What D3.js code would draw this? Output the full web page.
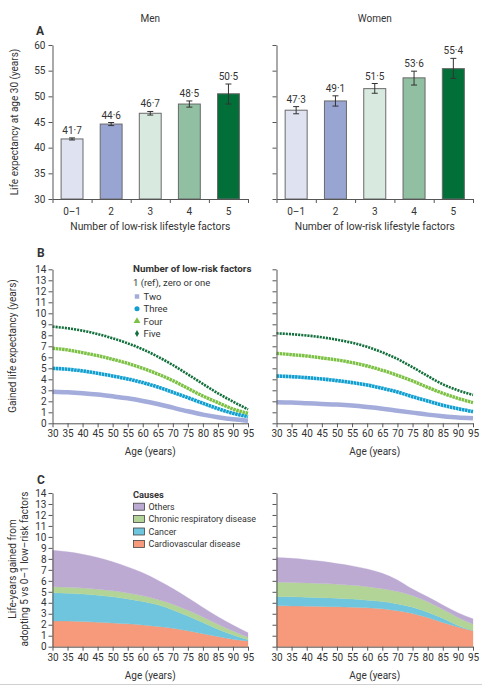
<!DOCTYPE html>
<html>
<head>
<meta charset="utf-8">
<script src="https://cdn.jsdelivr.net/npm/d3@7"></script>
<style>
  html,body{margin:0;padding:0;background:#fff;}
  svg{display:block;}
  text{font-family:Roboto,"Liberation Sans",sans-serif;fill:#333;}
</style>
</head>
<body>
<script>
// ---------- DATA ----------
const factorCats = ["0–1","2","3","4","5"];
const menLE   = [41.7,44.6,46.7,48.5,50.5];
const menLo   = [41.5,44.3,46.35,47.9,48.5];
const menHi   = [41.9,44.9,47.05,49.1,52.4];
const womenLE = [47.3,49.1,51.5,53.6,55.4];
const womenLo = [46.6,48.1,50.6,52.2,53.5];
const womenHi = [48.0,50.1,52.5,54.9,57.4];
const leLabels = {men:["41·7","44·6","46·7","48·5","50·5"], women:["47·3","49·1","51·5","53·6","55·4"]};
const yTicksA = [30,35,40,45,50,55,60];

const ages = [30,35,40,45,50,55,60,65,70,75,80,85,90,95];
const yTicksBC = [0,1,2,3,4,5,6,7,8,9,10,11,12,13,14];

const menTwo     = [2.88,2.82,2.73,2.61,2.45,2.27,2.03,1.76,1.42,1.09,0.79,0.55,0.36,0.24];
const menThree   = [5.00,4.91,4.76,4.55,4.30,4.03,3.70,3.30,2.82,2.33,1.82,1.33,0.91,0.61];
const menFour    = [6.82,6.67,6.42,6.15,5.82,5.45,5.00,4.48,3.88,3.18,2.48,1.88,1.30,0.91];
const menFive    = [8.79,8.64,8.42,8.12,7.73,7.27,6.73,6.06,5.30,4.45,3.58,2.73,1.97,1.27];
const womenTwo   = [1.91,1.88,1.82,1.76,1.70,1.61,1.48,1.33,1.15,0.97,0.79,0.64,0.52,0.45];
const womenThree = [4.30,4.24,4.15,4.03,3.88,3.70,3.48,3.18,2.85,2.42,2.03,1.64,1.33,1.06];
const womenFour  = [6.36,6.24,6.12,5.94,5.76,5.52,5.21,4.82,4.36,3.85,3.27,2.73,2.27,1.88];
const womenFive  = [8.18,8.10,7.98,7.82,7.60,7.32,6.95,6.45,5.85,5.10,4.30,3.55,3.00,2.58];

const menCvd      = [2.35,2.33,2.29,2.23,2.16,2.08,1.98,1.85,1.68,1.45,1.19,0.92,0.68,0.52];
const menCancer   = [2.56,2.53,2.50,2.45,2.38,2.27,2.14,1.96,1.67,1.35,1.01,0.67,0.39,0.12];
const menResp     = [0.55,0.55,0.55,0.55,0.55,0.54,0.51,0.49,0.52,0.52,0.51,0.45,0.36,0.22];
const menOthers   = [3.33,3.23,3.08,2.89,2.64,2.38,2.10,1.76,1.43,1.13,0.87,0.69,0.54,0.41];
const womenCvd    = [3.72,3.71,3.69,3.67,3.64,3.60,3.54,3.45,3.27,3.03,2.66,2.21,1.80,1.46];
const womenCancer = [0.84,0.83,0.82,0.80,0.78,0.74,0.70,0.67,0.63,0.57,0.48,0.38,0.14,0.02];
const womenResp   = [1.31,1.31,1.30,1.28,1.26,1.25,1.23,1.16,1.12,1.05,0.96,0.81,0.73,0.56];
const womenOthers = [2.25,2.20,2.12,2.03,1.89,1.77,1.61,1.41,1.06,0.60,0.45,0.40,0.42,0.50];

const seriesNames = ["Two","Three","Four","Five"];
const causeNames = ["Cardiovascular disease","Cancer","Chronic respiratory disease","Others"];

// ---------- STYLE ----------
const barColors = ["#dfe2f1","#98a5d3","#d8e9e0","#90bfa1","#036f38"];
const lineColors = {Two:"#a3acdb",Three:"#119fcf",Four:"#7cc144",Five:"#13703c"};
const causeColors = {"Cardiovascular disease":"#f69a7b","Cancer":"#6ec5dd","Chronic respiratory disease":"#b3d497","Others":"#bcaad3"};
const axisColor = "#555";
const FS = 10;

const W = 482, H = 686;
const svg = d3.select("body").append("svg").attr("width",W).attr("height",H);

const panelsX = {men:[52.5,248], women:[276.5,473]};

function styleAxis(g){
  g.selectAll("path,line").attr("stroke",axisColor).attr("stroke-width",1);
  g.selectAll("text").attr("font-size",FS).attr("fill","#3a3a3a").style("font-family","Roboto, 'Liberation Sans', sans-serif");
}

// ---------- PANEL A ----------
const yA = d3.scaleLinear().domain([30,60]).range([199,45]);
const dataA = {
  men: factorCats.map((c,i)=>({c, v:menLE[i], lo:menLo[i], hi:menHi[i], lab:leLabels.men[i], col:barColors[i]})),
  women: factorCats.map((c,i)=>({c, v:womenLE[i], lo:womenLo[i], hi:womenHi[i], lab:leLabels.women[i], col:barColors[i]}))
};
["men","women"].forEach(sex=>{
  const [x0,x1] = panelsX[sex];
  const xb = d3.scaleBand().domain(factorCats).range([x0,x1]).paddingInner(0.44).paddingOuter(0.22);
  const xl = d3.scaleLinear().domain([0,5]).range([x0,x1]);
  const g = svg.append("g");
  g.selectAll("rect.bar").data(dataA[sex]).join("rect")
    .attr("x",d=>xb(d.c)).attr("width",xb.bandwidth())
    .attr("y",d=>yA(d.v)).attr("height",d=>yA(30)-yA(d.v))
    .attr("fill",d=>d.col).attr("stroke","#6a6a6a").attr("stroke-width",1);
  const eb = g.selectAll("g.eb").data(dataA[sex]).join("g");
  eb.append("line").attr("x1",d=>xb(d.c)+xb.bandwidth()/2).attr("x2",d=>xb(d.c)+xb.bandwidth()/2)
    .attr("y1",d=>yA(d.lo)).attr("y2",d=>yA(d.hi)).attr("stroke","#333").attr("stroke-width",1);
  ["lo","hi"].forEach(k=>{
    eb.append("line").attr("x1",d=>xb(d.c)+xb.bandwidth()/2-3).attr("x2",d=>xb(d.c)+xb.bandwidth()/2+3)
      .attr("y1",d=>yA(d[k])).attr("y2",d=>yA(d[k])).attr("stroke","#333").attr("stroke-width",1);
  });
  g.selectAll("text.val").data(dataA[sex]).join("text")
    .attr("x",d=>xb(d.c)+xb.bandwidth()/2).attr("y",d=>yA(d.hi)-4)
    .attr("text-anchor","middle").attr("font-size",FS).text(d=>d.lab);
  const ya = d3.axisLeft(yA).tickValues(yTicksA).tickSize(4).tickSizeOuter(0)
    .tickFormat(sex==="men"? d3.format("d") : "");
  svg.append("g").attr("transform",`translate(${x0},0)`).call(ya).call(styleAxis);
  const xa = d3.axisBottom(xl).tickValues([0,1,2,3,4,5]).tickSize(4).tickSizeOuter(0).tickFormat("");
  svg.append("g").attr("transform",`translate(0,${yA(30)})`).call(xa).call(styleAxis);
  const xc = d3.axisBottom(xb).tickSize(0).tickPadding(9);
  const gx = svg.append("g").attr("transform",`translate(0,${yA(30)})`).call(xc).call(styleAxis);
  gx.select(".domain").remove();
  svg.append("text").attr("x",(x0+x1)/2).attr("y",229.5).attr("text-anchor","middle").attr("font-size",10.3)
    .text("Number of low-risk lifestyle factors");
  svg.append("text").attr("x",(x0+x1)/2).attr("y",21.5).attr("text-anchor","middle").attr("font-size",FS)
    .text(sex==="men"?"Men":"Women");
});
svg.append("text").attr("x",36).attr("y",35).attr("font-size",12).attr("font-weight","bold").attr("fill","#111").text("A");
svg.append("text").attr("transform",`translate(18,122) rotate(-90)`).attr("text-anchor","middle").attr("font-size",FS)
  .text("Life expectancy at age 30 (years)");

// ---------- PANEL B ----------
const yB = d3.scaleLinear().domain([0,14]).range([423.3,269.3]);
const dataB = {
  men: {Two:menTwo, Three:menThree, Four:menFour, Five:menFive},
  women: {Two:womenTwo, Three:womenThree, Four:womenFour, Five:womenFive}
};
const lineStyle = {
  Two:{w:4.5,dash:null},
  Three:{w:3.6,dash:"2.6,0.5"},
  Four:{w:3.4,dash:"2.6,0.6"},
  Five:{w:2.6,dash:"2.1,1.0"}
};
["men","women"].forEach(sex=>{
  const [x0,x1] = panelsX[sex];
  const xB = d3.scaleLinear().domain([30,95]).range([x0,x1]);
  const line = d3.line().x(d=>xB(d.a)).y(d=>yB(d.v)).curve(d3.curveMonotoneX);
  seriesNames.forEach(s=>{
    const pts = ages.map((a,i)=>({a, v:dataB[sex][s][i]}));
    svg.append("path").datum(pts).attr("d",line).attr("fill","none")
      .attr("stroke",lineColors[s]).attr("stroke-width",lineStyle[s].w)
      .attr("stroke-dasharray",lineStyle[s].dash);
  });
  const ya = d3.axisLeft(yB).tickValues(yTicksBC).tickSize(4).tickSizeOuter(0).tickPadding(2)
    .tickFormat(sex==="men"? d3.format("d") : "");
  svg.append("g").attr("transform",`translate(${x0},0)`).call(ya).call(styleAxis);
  const xa = d3.axisBottom(xB).tickValues(ages).tickSize(4).tickSizeOuter(0).tickPadding(3).tickFormat(d3.format("d"));
  svg.append("g").attr("transform",`translate(0,${yB(0)})`).call(xa).call(styleAxis);
  svg.append("text").attr("x",(x0+x1)/2).attr("y",454.5).attr("text-anchor","middle").attr("font-size",FS).text("Age (years)");
});
svg.append("text").attr("x",37).attr("y",257).attr("font-size",12).attr("font-weight","bold").attr("fill","#111").text("B");
svg.append("text").attr("transform",`translate(16,346) rotate(-90)`).attr("text-anchor","middle").attr("font-size",FS)
  .text("Gained life expectancy (years)");
const lgB = svg.append("g");
lgB.append("text").attr("x",133).attr("y",272).attr("font-size",9.8).attr("font-weight","bold").attr("fill","#222").text("Number of low-risk factors");
lgB.append("text").attr("x",133).attr("y",285.5).attr("font-size",9.5).text("1 (ref), zero or one");
const symType = {Two:d3.symbolSquare, Three:d3.symbolCircle, Four:d3.symbolTriangle, Five:d3.symbolDiamond};
seriesNames.forEach((s,i)=>{
  const y = 296.5 + i*12.3;
  lgB.append("path").attr("transform",`translate(137,${y})`)
    .attr("d",d3.symbol().type(symType[s]).size(s==="Five"?14:20)()).attr("fill",lineColors[s]);
  lgB.append("text").attr("x",143.5).attr("y",y+3.4).attr("font-size",9.5).text(s);
});

// ---------- PANEL C ----------
const yC = d3.scaleLinear().domain([0,14]).range([646.7,493]);
const dataC = {
  men: ages.map((a,i)=>({a, "Cardiovascular disease":menCvd[i], "Cancer":menCancer[i], "Chronic respiratory disease":menResp[i], "Others":menOthers[i]})),
  women: ages.map((a,i)=>({a, "Cardiovascular disease":womenCvd[i], "Cancer":womenCancer[i], "Chronic respiratory disease":womenResp[i], "Others":womenOthers[i]}))
};
["men","women"].forEach(sex=>{
  const [x0,x1] = panelsX[sex];
  const xC = d3.scaleLinear().domain([30,95]).range([x0,x1]);
  const stack = d3.stack().keys(causeNames);
  const layers = stack(dataC[sex]);
  const area = d3.area().x(d=>xC(d.data.a)).y0(d=>yC(d[0])).y1(d=>yC(d[1])).curve(d3.curveMonotoneX);
  svg.append("g").selectAll("path").data(layers).join("path")
    .attr("d",area).attr("fill",d=>causeColors[d.key]).attr("stroke",d=>causeColors[d.key]).attr("stroke-width",0.3);
  const ya = d3.axisLeft(yC).tickValues(yTicksBC).tickSize(4).tickSizeOuter(0).tickPadding(2)
    .tickFormat(sex==="men"? d3.format("d") : "");
  svg.append("g").attr("transform",`translate(${x0},0)`).call(ya).call(styleAxis);
  const xa = d3.axisBottom(xC).tickValues(ages).tickSize(4).tickSizeOuter(0).tickPadding(3).tickFormat(d3.format("d"));
  svg.append("g").attr("transform",`translate(0,${yC(0)})`).call(xa).call(styleAxis);
  svg.append("text").attr("x",(x0+x1)/2).attr("y",678.5).attr("text-anchor","middle").attr("font-size",FS).text("Age (years)");
});
svg.append("text").attr("x",37).attr("y",484).attr("font-size",12).attr("font-weight","bold").attr("fill","#111").text("C");
svg.append("text").attr("transform",`translate(16,569) rotate(-90)`).attr("text-anchor","middle").attr("font-size",FS)
  .text("Life-years gained from");
svg.append("text").attr("transform",`translate(28,569) rotate(-90)`).attr("text-anchor","middle").attr("font-size",FS)
  .text("adopting 5 vs 0–1 low–risk factors");
const lgC = svg.append("g");
lgC.append("text").attr("x",133).attr("y",497.5).attr("font-size",9.3).attr("font-weight","bold").attr("fill","#222").text("Causes");
causeNames.slice().reverse().forEach((c,i)=>{
  const y = 506.7 + i*12.4;
  lgC.append("rect").attr("x",133.5).attr("y",y-3.5).attr("width",11).attr("height",7)
    .attr("fill",causeColors[c]).attr("stroke","#444").attr("stroke-width",0.8);
  lgC.append("text").attr("x",148.5).attr("y",y+3.3).attr("font-size",8.9).text(c);
});

svg.append("line").attr("x1",0).attr("x2",W).attr("y1",684.5).attr("y2",684.5).attr("stroke","#d0d0d0").attr("stroke-width",1);
</script>
</body>
</html>
